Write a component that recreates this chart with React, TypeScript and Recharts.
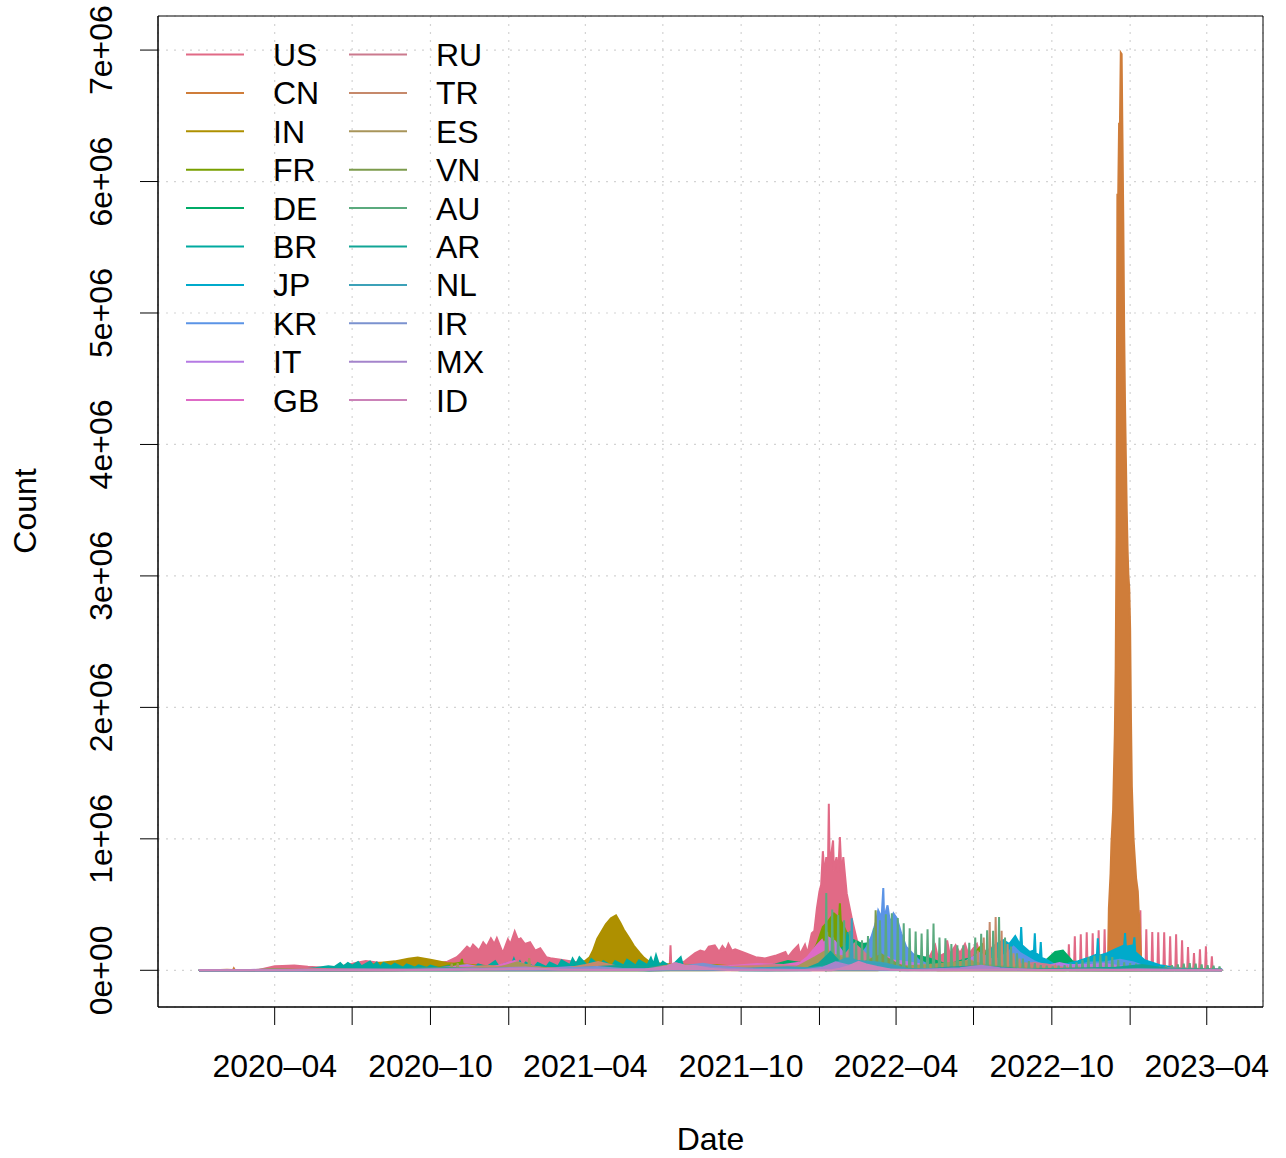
import React from 'react';
import { AreaChart, Area, XAxis, YAxis, CartesianGrid, Legend, ReferenceArea } from 'recharts';

type P = [string, number];

const FONT = '"Liberation Sans", Arial, Helvetica, sans-serif';

// values in thousands of cases
const US: P[] = [['2020-01-03',0],['2020-02-28',0],['2020-03-12',1],['2020-03-22',15],['2020-04-01',30],['2020-04-10',33],['2020-04-24',36],['2020-05-10',27],['2020-05-25',22],['2020-06-10',22],['2020-06-25',40],['2020-07-05',55],['2020-07-17',70],['2020-07-28',62],['2020-08-10',52],['2020-08-28',42],['2020-09-10',35],['2020-09-25',45],['2020-10-10',55],['2020-10-21',65],['2020-11-01',100],['2020-11-06',130],['2020-11-13',180],['2020-11-17',160],['2020-11-20',195],['2020-11-27',150],['2020-12-02',213],['2020-12-06',180],['2020-12-11',243],['2020-12-15',200],['2020-12-18',245],['2020-12-25',130],['2020-12-31',235],['2021-01-03',200],['2021-01-08',296],['2021-01-12',230],['2021-01-15',243],['2021-01-20',200],['2021-01-26',213],['2021-02-01',150],['2021-02-07',167],['2021-02-14',100],['2021-02-19',91],['2021-03-03',80],['2021-03-20',63],['2021-04-07',70],['2021-04-20',60],['2021-04-30',50],['2021-05-24',30],['2021-06-16',15],['2021-07-01',15],['2021-07-09',20],['2021-07-10',190],['2021-07-11',25],['2021-07-20',45],['2021-07-27',70],['2021-08-02',100],['2021-08-08',130],['2021-08-14',150],['2021-08-20',140],['2021-08-24',180],['2021-08-31',190],['2021-09-05',140],['2021-09-09',185],['2021-09-13',150],['2021-09-16',200],['2021-09-20',150],['2021-09-24',160],['2021-10-06',130],['2021-10-18',100],['2021-10-29',90],['2021-11-10',110],['2021-11-22',140],['2021-11-25',100],['2021-12-01',150],['2021-12-07',190],['2021-12-09',120],['2021-12-15',195],['2021-12-18',130],['2021-12-23',281],['2021-12-26',300],['2021-12-29',471],['2022-01-01',600],['2022-01-03',650],['2022-01-05',906],['2022-01-07',720],['2022-01-09',861],['2022-01-11',780],['2022-01-12',1267],['2022-01-13',800],['2022-01-15',889],['2022-01-17',988],['2022-01-18',760],['2022-01-21',861],['2022-01-23',740],['2022-01-25',1013],['2022-01-27',720],['2022-01-29',861],['2022-02-02',585],['2022-02-08',395],['2022-02-14',228],['2022-02-22',150],['2022-03-01',120],['2022-03-13',60],['2022-03-25',45],['2022-04-06',40],['2022-04-23',70],['2022-05-03',90],['2022-05-11',110],['2022-05-17',190],['2022-05-20',100],['2022-05-29',130],['2022-05-31',228],['2022-06-03',120],['2022-06-10',190],['2022-06-15',130],['2022-06-21',200],['2022-06-25',120],['2022-07-05',200],['2022-07-08',130],['2022-07-20',160],['2022-07-26',190],['2022-08-07',120],['2022-08-25',100],['2022-09-11',80],['2022-09-29',60],['2022-10-10',45],['2022-10-19',40],['2023-04-19',0]];
const US_WEEKLY: P[] = [['2022-10-21',198],['2022-10-28',258],['2022-11-04',274],['2022-11-11',289],['2022-11-18',281],['2022-11-25',304],['2022-12-02',312],['2022-12-09',320],['2022-12-16',340],['2022-12-23',360],['2022-12-30',380],['2023-01-06',400],['2023-01-13',456],['2023-01-20',312],['2023-01-27',291],['2023-02-03',289],['2023-02-10',289],['2023-02-17',258],['2023-02-24',274],['2023-03-03',228],['2023-03-10',177],['2023-03-17',132],['2023-03-24',160],['2023-03-31',182],['2023-04-07',106]];

const CN: P[] = [['2020-01-03',0],['2020-01-20',0.1],['2020-01-28',1.5],['2020-02-05',3.5],['2020-02-12',2],['2020-02-13',15],['2020-02-14',4],['2020-02-20',0.8],['2020-03-05',0.1],['2020-06-01',0],['2022-03-10',1],['2022-04-10',25],['2022-04-25',20],['2022-05-20',1],['2022-10-15',1],['2022-11-10',10],['2022-11-26',30],['2022-12-03',35],['2022-12-06',60],['2022-12-07',471],['2022-12-09',737],['2022-12-10',965],['2022-12-12',1220],['2022-12-13',1520],['2022-12-14',1800],['2022-12-15',2300],['2022-12-16',3300],['2022-12-17',5900],['2022-12-18',5900],['2022-12-19',6440],['2022-12-20',6440],['2022-12-21',6980],['2022-12-22',6970],['2022-12-23',6330],['2022-12-24',5680],['2022-12-25',4860],['2022-12-26',4300],['2022-12-27',3900],['2022-12-28',3500],['2022-12-29',3200],['2022-12-30',3000],['2022-12-31',2900],['2023-01-01',2600],['2023-01-02',1900],['2023-01-03',1400],['2023-01-04',1200],['2023-01-05',1000],['2023-01-06',900],['2023-01-07',800],['2023-01-08',700],['2023-01-09',650],['2023-01-10',600],['2023-01-11',450],['2023-01-12',380],['2023-01-13',200],['2023-01-14',80],['2023-01-16',30],['2023-02-01',10],['2023-03-01',3],['2023-04-19',1]];

const IN: P[] = [['2020-01-03',0],['2020-03-15',0.1],['2020-04-15',1],['2020-05-15',4],['2020-06-15',12],['2020-07-15',30],['2020-08-01',55],['2020-08-20',68],['2020-09-05',88],['2020-09-16',97],['2020-10-01',80],['2020-10-20',55],['2020-11-10',45],['2020-12-01',35],['2021-01-01',20],['2021-02-10',11],['2021-03-01',16],['2021-03-20',40],['2021-04-01',72],['2021-04-06',100],['2021-04-10',150],['2021-04-15',240],['2021-04-20',295],['2021-04-25',350],['2021-05-01',395],['2021-05-07',418],['2021-05-12',362],['2021-05-16',310],['2021-05-23',240],['2021-05-28',186],['2021-06-04',130],['2021-06-09',95],['2021-06-15',65],['2021-07-01',48],['2021-08-01',40],['2021-09-01',40],['2021-10-01',23],['2021-11-01',12],['2021-12-20',7],['2022-01-01',22],['2022-01-10',170],['2022-01-21',347],['2022-02-01',160],['2022-02-15',30],['2022-03-10',5],['2022-05-01',3],['2022-06-15',10],['2022-07-20',20],['2022-08-20',10],['2022-10-01',3],['2023-01-01',0.2],['2023-03-25',1.5],['2023-04-19',5]];

const FR: P[] = [['2020-01-03',0],['2020-03-01',0],['2020-03-25',4],['2020-04-10',7],['2020-05-15',1],['2020-07-01',0.5],['2020-08-20',4],['2020-09-20',12],['2020-10-15',25],['2020-10-30',50],['2020-11-06',60],['2020-11-07',86],['2020-11-08',45],['2020-11-25',15],['2020-12-20',15],['2021-01-20',22],['2021-03-01',20],['2021-04-01',40],['2021-04-20',30],['2021-05-20',10],['2021-06-20',2],['2021-07-20',20],['2021-08-10',25],['2021-09-10',8],['2021-10-10',5],['2021-11-10',10],['2021-12-01',40],['2021-12-20',80],['2021-12-29',200],['2022-01-05',330],['2022-01-11',370],['2022-01-18',433],['2022-01-24',400],['2022-01-25',509],['2022-01-26',380],['2022-02-01',300],['2022-02-08',200],['2022-02-20',80],['2022-03-10',60],['2022-03-25',120],['2022-04-05',150],['2022-04-20',90],['2022-05-15',30],['2022-06-10',30],['2022-07-01',100],['2022-07-05',150],['2022-07-12',200],['2022-07-15',110],['2022-08-01',40],['2022-09-01',20],['2022-10-05',60],['2022-10-25',30],['2022-12-01',50],['2022-12-15',60],['2023-01-10',15],['2023-02-15',5],['2023-04-19',2]];

const DE: P[] = [['2020-01-03',0],['2020-03-01',0],['2020-03-15',1],['2020-03-28',6],['2020-04-20',2],['2020-06-01',0.5],['2020-09-01',1.5],['2020-10-15',6],['2020-11-01',18],['2020-11-20',23],['2020-12-18',33],['2021-01-10',20],['2021-02-10',8],['2021-03-20',17],['2021-04-15',25],['2021-05-15',10],['2021-06-15',1],['2021-08-10',5],['2021-09-01',10],['2021-10-15',10],['2021-11-10',45],['2021-11-25',70],['2021-12-10',55],['2021-12-28',30],['2022-01-10',60],['2022-01-25',160],['2022-02-10',230],['2022-02-20',200],['2022-03-05',210],['2022-03-18',290],['2022-03-25',270],['2022-04-05',200],['2022-04-20',120],['2022-05-10',90],['2022-06-01',40],['2022-06-20',80],['2022-07-10',110],['2022-07-20',100],['2022-08-10',50],['2022-09-01',30],['2022-09-25',80],['2022-10-05',140],['2022-10-14',150],['2022-10-25',70],['2022-11-15',30],['2022-12-10',40],['2022-12-25',20],['2023-01-20',10],['2023-02-20',15],['2023-03-15',8],['2023-04-19',2]];

const BR: P[] = [['2020-01-03',0],['2020-03-15',0.1],['2020-04-15',2],['2020-05-01',5],['2020-05-20',18],['2020-06-03',30],['2020-06-10',25],['2020-06-17',55],['2020-06-21',30],['2020-06-26',55],['2020-07-01',35],['2020-07-08',62],['2020-07-12',30],['2020-07-22',67],['2020-07-26',35],['2020-07-30',60],['2020-08-03',25],['2020-08-07',55],['2020-08-16',30],['2020-08-20',50],['2020-08-30',20],['2020-09-03',45],['2020-09-13',20],['2020-09-17',38],['2020-09-27',18],['2020-10-01',35],['2020-10-11',15],['2020-10-22',30],['2020-11-01',12],['2020-11-12',35],['2020-11-22',20],['2020-11-26',45],['2020-12-06',25],['2020-12-16',70],['2020-12-20',30],['2020-12-30',55],['2021-01-03',20],['2021-01-07',87],['2021-01-10',35],['2021-01-14',68],['2021-01-17',30],['2021-01-21',60],['2021-01-31',25],['2021-02-04',55],['2021-02-14',25],['2021-02-18',60],['2021-02-28',30],['2021-03-04',75],['2021-03-14',40],['2021-03-17',90],['2021-03-21',45],['2021-03-25',100],['2021-04-04',30],['2021-04-08',85],['2021-04-18',35],['2021-04-22',70],['2021-05-02',30],['2021-05-06',70],['2021-05-16',35],['2021-05-20',80],['2021-05-30',35],['2021-06-03',75],['2021-06-13',40],['2021-06-17',95],['2021-06-20',45],['2021-06-23',115],['2021-06-27',35],['2021-07-01',65],['2021-07-11',25],['2021-07-15',55],['2021-07-22',100],['2021-07-25',25],['2021-08-05',40],['2021-08-15',15],['2021-08-26',30],['2021-09-10',15],['2021-10-10',10],['2021-11-10',10],['2021-12-10',5],['2022-01-05',15],['2022-01-15',80],['2022-01-20',150],['2022-01-25',110],['2022-02-01',170],['2022-02-03',290],['2022-02-05',130],['2022-02-20',100],['2022-03-10',50],['2022-04-10',20],['2022-05-10',20],['2022-06-01',40],['2022-06-20',60],['2022-07-05',50],['2022-08-01',30],['2022-09-01',15],['2022-10-01',8],['2022-11-20',30],['2022-12-10',40],['2023-01-05',25],['2023-02-01',10],['2023-03-01',10],['2023-04-19',5]];

const JP: P[] = [['2020-01-03',0],['2020-03-20',0.1],['2020-04-10',0.6],['2020-05-15',0.1],['2020-08-05',1.5],['2020-11-01',0.8],['2021-01-08',8],['2021-02-15',1.5],['2021-05-10',7],['2021-06-20',1.5],['2021-08-20',25],['2021-09-30',1],['2021-12-20',0.3],['2022-01-10',10],['2022-01-25',70],['2022-02-05',105],['2022-02-20',75],['2022-03-15',50],['2022-04-10',50],['2022-05-01',35],['2022-06-10',15],['2022-06-25',20],['2022-07-10',60],['2022-07-20',150],['2022-07-28',200],['2022-08-05',230],['2022-08-12',200],['2022-08-19',260],['2022-08-25',190],['2022-08-26',329],['2022-08-27',190],['2022-09-05',140],['2022-09-10',150],['2022-09-11',281],['2022-09-12',130],['2022-09-17',110],['2022-09-18',215],['2022-09-19',95],['2022-09-25',80],['2022-10-05',40],['2022-10-20',50],['2022-11-01',70],['2022-11-15',100],['2022-11-23',120],['2022-11-24',243],['2022-11-25',110],['2022-12-05',130],['2022-12-15',160],['2022-12-25',190],['2022-12-26',283],['2022-12-27',180],['2023-01-05',190],['2023-01-06',251],['2023-01-07',140],['2023-01-18',76],['2023-02-05',38],['2023-03-01',12],['2023-04-19',8]];

const KR: P[] = [['2020-01-03',0],['2020-02-20',0.1],['2020-03-01',0.8],['2020-03-15',0.1],['2020-08-27',0.4],['2020-12-25',1.2],['2021-07-25',1.8],['2021-09-25',3],['2021-12-15',7.8],['2022-01-10',3.5],['2022-02-01',20],['2022-02-15',90],['2022-02-25',170],['2022-03-03',253],['2022-03-08',357],['2022-03-11',456],['2022-03-15',400],['2022-03-17',625],['2022-03-18',400],['2022-03-22',494],['2022-03-25',357],['2022-03-29',433],['2022-04-02',395],['2022-04-07',281],['2022-04-13',177],['2022-04-20',130],['2022-04-27',80],['2022-05-10',40],['2022-06-10',10],['2022-07-10',20],['2022-07-25',70],['2022-08-10',130],['2022-08-17',180],['2022-08-25',130],['2022-09-10',70],['2022-09-25',30],['2022-10-15',25],['2022-11-01',40],['2022-11-15',60],['2022-12-01',60],['2022-12-20',80],['2023-01-05',60],['2023-01-20',25],['2023-02-15',12],['2023-04-19',10]];

const IT: P[] = [['2020-01-03',0],['2020-02-25',0.1],['2020-03-21',6.5],['2020-04-20',3],['2020-05-20',0.7],['2020-08-01',0.3],['2020-09-20',1.5],['2020-10-15',8],['2020-11-01',30],['2020-11-13',41],['2020-12-01',20],['2020-12-20',15],['2021-01-08',20],['2021-02-10',12],['2021-03-15',24],['2021-04-10',15],['2021-05-15',6],['2021-06-20',1],['2021-08-01',6],['2021-09-01',6],['2021-10-01',3],['2021-11-15',10],['2021-12-10',20],['2021-12-28',100],['2022-01-05',190],['2022-01-11',250],['2022-01-19',220],['2022-01-28',140],['2022-02-10',80],['2022-02-25',40],['2022-03-20',75],['2022-04-05',70],['2022-04-25',50],['2022-05-20',25],['2022-06-10',25],['2022-06-28',90],['2022-07-08',130],['2022-07-20',90],['2022-08-10',40],['2022-09-01',20],['2022-09-20',25],['2022-10-10',55],['2022-10-20',40],['2022-11-15',40],['2022-12-01',50],['2022-12-20',30],['2023-01-10',20],['2023-02-15',5],['2023-03-15',3],['2023-04-19',2]];

const GB: P[] = [['2020-01-03',0],['2020-03-15',0.5],['2020-04-10',5],['2020-05-15',2.5],['2020-07-01',0.6],['2020-08-20',1],['2020-09-20',5],['2020-10-20',22],['2020-11-10',25],['2020-12-01',15],['2020-12-20',35],['2020-12-30',55],['2021-01-08',70],['2021-01-20',40],['2021-02-10',15],['2021-03-10',6],['2021-04-20',2.5],['2021-05-20',2.5],['2021-06-15',10],['2021-07-01',25],['2021-07-17',52],['2021-08-01',25],['2021-08-20',33],['2021-09-15',30],['2021-10-20',47],['2021-11-20',40],['2021-12-10',60],['2021-12-18',100],['2021-12-29',190],['2022-01-04',230],['2022-01-10',150],['2022-01-20',100],['2022-02-05',80],['2022-02-20',40],['2022-03-10',60],['2022-03-22',100],['2022-04-05',50],['2022-04-25',20],['2022-06-01',10],['2022-07-01',25],['2022-07-20',20],['2022-08-20',5],['2022-10-01',10],['2022-11-01',5],['2022-12-20',10],['2023-02-01',5],['2023-04-19',2]];

const RU: P[] = [['2020-01-03',0],['2020-03-20',0.1],['2020-04-15',3],['2020-05-11',11],['2020-06-15',8],['2020-08-01',5],['2020-09-01',5],['2020-10-01',9],['2020-11-01',18],['2020-12-24',29],['2021-01-20',21],['2021-03-01',11],['2021-05-15',8],['2021-06-20',18],['2021-07-10',25],['2021-08-15',21],['2021-09-15',19],['2021-10-15',31],['2021-11-06',41],['2021-12-01',33],['2021-12-31',21],['2022-01-20',50],['2022-02-01',125],['2022-02-11',203],['2022-02-20',150],['2022-03-05',70],['2022-03-25',30],['2022-04-20',12],['2022-06-01',3],['2022-07-10',5],['2022-08-01',20],['2022-08-25',45],['2022-09-10',55],['2022-09-25',45],['2022-10-15',20],['2022-11-15',8],['2023-01-01',7],['2023-02-01',11],['2023-03-01',15],['2023-04-19',5]];

const TR: P[] = [['2020-01-03',0],['2020-03-15',0],['2020-04-11',5],['2020-05-20',1],['2020-07-01',1.2],['2020-09-01',1.6],['2020-11-01',2.5],['2020-11-26',29],['2020-12-10',32],['2020-12-31',15],['2021-02-01',6.5],['2021-03-10',14],['2021-04-01',40],['2021-04-16',62],['2021-05-01',40],['2021-05-20',10],['2021-06-20',5],['2021-08-01',23],['2021-09-01',20],['2021-10-01',28],['2021-11-01',28],['2021-12-01',22],['2022-01-01',40],['2022-01-15',70],['2022-01-26',111],['2022-02-07',90],['2022-02-25',45],['2022-03-15',25],['2022-04-01',15],['2023-04-19',0]];
const TR_WEEKLY: P[] = [['2022-04-06',45],['2022-04-13',40],['2022-04-20',35],['2022-04-27',30],['2022-05-04',25],['2022-05-11',25],['2022-05-18',22],['2022-05-25',20],['2022-06-01',20],['2022-06-08',25],['2022-06-15',40],['2022-06-22',60],['2022-06-29',80],['2022-07-06',150],['2022-07-13',250],['2022-07-20',367],['2022-07-27',405],['2022-08-03',300],['2022-08-10',200],['2022-08-17',130],['2022-08-24',90],['2022-08-31',60],['2022-09-07',45],['2022-09-14',35],['2022-09-21',30],['2022-10-05',25],['2022-10-19',20],['2022-11-02',18],['2022-11-16',15],['2022-11-30',15],['2022-12-14',15],['2022-12-28',15],['2023-01-11',12],['2023-01-25',10],['2023-02-08',8],['2023-02-22',6],['2023-03-08',5],['2023-03-22',5],['2023-04-05',4]];

const ES: P[] = [['2020-01-03',0],['2020-03-01',0],['2020-03-26',8],['2020-04-15',5],['2020-05-20',0.5],['2020-07-20',2],['2020-08-25',8],['2020-09-15',12],['2020-10-10',15],['2020-10-25',15],['2020-10-26',50],['2020-10-27',15],['2020-11-01',20],['2020-11-02',55],['2020-11-03',20],['2020-11-20',15],['2020-12-15',10],['2021-01-11',60],['2021-01-24',35],['2021-01-25',93],['2021-01-26',30],['2021-02-15',15],['2021-03-15',5],['2021-04-20',8],['2021-06-01',4],['2021-07-12',40],['2021-07-20',30],['2021-08-20',10],['2021-10-01',2],['2021-12-01',8],['2021-12-27',100],['2022-01-09',150],['2022-01-10',292],['2022-01-11',150],['2022-01-16',120],['2022-01-17',250],['2022-01-18',120],['2022-02-01',80],['2022-02-20',30],['2022-04-01',25],['2022-05-10',40],['2022-06-10',60],['2022-06-25',70],['2022-07-15',40],['2022-09-01',15],['2022-12-01',10],['2023-02-01',10],['2023-04-19',3]];

const VN: P[] = [['2020-01-03',0],['2021-06-15',0.3],['2021-07-20',5],['2021-08-15',10],['2021-09-15',10],['2021-10-15',3.5],['2021-11-20',12],['2021-12-20',16],['2022-01-20',15],['2022-02-15',40],['2022-03-01',80],['2022-03-07',100],['2022-03-08',456],['2022-03-09',100],['2022-03-15',120],['2022-03-22',90],['2022-04-05',40],['2022-04-20',10],['2022-05-10',3],['2022-08-10',3],['2022-10-01',1],['2023-04-19',0.1]];

const AU: P[] = [['2020-01-03',0],['2020-03-15',0.2],['2020-03-28',0.4],['2020-04-20',0.02],['2020-07-10',0.3],['2020-08-05',0.7],['2020-09-15',0.05],['2021-06-30',0.03],['2021-08-20',0.8],['2021-09-15',2],['2021-10-15',2.5],['2021-11-15',1.2],['2021-12-10',2],['2021-12-20',6],['2021-12-28',20],['2021-12-31',35],['2023-04-19',0]];
const AU_WEEKLY: P[] = [['2022-01-09',587],['2022-01-16',463],['2022-01-23',420],['2022-01-30',380],['2022-02-06',300],['2022-02-13',228],['2022-02-20',228],['2022-02-27',260],['2022-03-06',320],['2022-03-13',380],['2022-03-20',426],['2022-03-27',433],['2022-04-03',397],['2022-04-10',357],['2022-04-17',320],['2022-04-24',295],['2022-05-01',280],['2022-05-08',312],['2022-05-15',355],['2022-05-22',250],['2022-05-29',243],['2022-06-05',200],['2022-06-12',190],['2022-06-19',190],['2022-06-26',210],['2022-07-03',250],['2022-07-10',278],['2022-07-17',304],['2022-07-24',300],['2022-07-31',405],['2022-08-07',250],['2022-08-14',180],['2022-08-21',130],['2022-08-28',90],['2022-09-04',70],['2022-09-11',55],['2022-09-18',40],['2022-09-25',35],['2022-10-02',30],['2022-10-09',35],['2022-10-16',40],['2022-10-23',50],['2022-10-30',60],['2022-11-06',80],['2022-11-13',100],['2022-11-20',110],['2022-11-27',120],['2022-12-04',110],['2022-12-11',100],['2022-12-18',80],['2022-12-25',60],['2023-01-01',55],['2023-01-08',50],['2023-01-15',40],['2023-01-22',35],['2023-01-29',30],['2023-02-05',30],['2023-02-12',35],['2023-02-19',40],['2023-02-26',45],['2023-03-05',50],['2023-03-12',55],['2023-03-19',50],['2023-03-26',45],['2023-04-02',40],['2023-04-09',35],['2023-04-16',30]];

const AR: P[] = [['2020-01-03',0],['2020-04-01',0.1],['2020-05-15',0.5],['2020-07-15',3],['2020-08-20',8],['2020-10-01',14],['2020-10-20',16],['2020-11-20',8],['2020-12-30',12],['2021-01-15',10],['2021-03-01',7],['2021-04-15',25],['2021-05-25',39],['2021-06-15',25],['2021-07-15',13],['2021-08-15',6],['2021-09-15',1.5],['2021-11-01',1],['2021-12-15',8],['2021-12-31',50],['2022-01-10',110],['2022-01-14',140],['2022-01-25',60],['2022-02-10',20],['2022-03-01',5],['2022-05-01',3],['2022-06-01',20],['2022-07-10',30],['2022-09-01',5],['2022-12-15',20],['2023-01-15',40],['2023-02-15',10],['2023-04-19',2]];

const NL: P[] = [['2020-01-03',0],['2020-03-20',1],['2020-04-10',1.2],['2020-06-01',0.2],['2020-09-15',2],['2020-10-20',10],['2020-12-20',12],['2021-02-10',4],['2021-04-15',8],['2021-06-15',1],['2021-07-15',10],['2021-09-01',2],['2021-11-25',24],['2021-12-20',15],['2022-01-10',30],['2022-01-25',70],['2022-02-01',90],['2022-02-07',90],['2022-02-08',395],['2022-02-09',85],['2022-02-15',70],['2022-03-10',60],['2022-03-20',50],['2022-04-15',10],['2022-06-20',5],['2022-07-10',10],['2022-09-01',2],['2022-10-10',3],['2023-04-19',0.5]];

const IR: P[] = [['2020-01-03',0],['2020-02-25',0.2],['2020-03-30',3],['2020-05-01',1],['2020-06-05',3],['2020-07-15',2.5],['2020-09-15',3.5],['2020-11-20',14],['2020-12-20',6],['2021-02-01',6.5],['2021-04-15',25],['2021-05-15',10],['2021-06-20',10],['2021-07-20',27],['2021-08-17',50],['2021-09-10',25],['2021-10-15',10],['2021-11-30',4],['2022-01-10',1.5],['2022-01-25',20],['2022-02-07',40],['2022-02-25',15],['2022-04-01',3],['2022-07-10',4],['2022-08-10',9],['2022-09-20',2],['2023-04-19',0.5]];

const MX: P[] = [['2020-01-03',0],['2020-04-01',0.2],['2020-05-20',2.5],['2020-07-15',7],['2020-09-01',5],['2020-10-20',6],['2020-12-01',10],['2021-01-21',22],['2021-02-15',8],['2021-04-15',3],['2021-06-15',3],['2021-07-20',15],['2021-08-15',25],['2021-09-15',12],['2021-10-20',4],['2021-12-15',2],['2022-01-05',20],['2022-01-20',60],['2022-02-05',35],['2022-02-25',8],['2022-04-15',1],['2022-06-15',15],['2022-07-10',35],['2022-08-01',15],['2022-09-01',3],['2022-12-01',3],['2023-01-10',8],['2023-04-19',1]];

const ID: P[] = [['2020-01-03',0],['2020-03-10',0],['2020-04-15',0.3],['2020-06-15',1],['2020-08-15',2.3],['2020-10-01',4],['2020-12-01',5.5],['2021-01-30',14],['2021-03-01',6],['2021-05-01',4.5],['2021-06-10',7],['2021-06-25',20],['2021-07-06',31],['2021-07-15',56],['2021-07-25',38],['2021-08-10',30],['2021-08-25',12],['2021-09-15',3],['2021-11-01',0.5],['2022-01-15',1],['2022-01-25',12],['2022-02-05',33],['2022-02-16',64],['2022-02-25',45],['2022-03-10',25],['2022-03-25',6],['2022-05-01',1],['2022-06-20',2],['2022-07-20',5],['2022-08-15',6],['2022-09-15',2],['2022-11-20',6],['2022-12-20',1.5],['2023-04-19',0.2]];

const SERIES: { key: string; color: string; daily: P[]; weekly?: P[] }[] = [
  { key: 'US', color: '#E16A86', daily: US, weekly: US_WEEKLY },
  { key: 'CN', color: '#CF7D3A', daily: CN },
  { key: 'IN', color: '#AE9000', daily: IN },
  { key: 'FR', color: '#789F00', daily: FR },
  { key: 'DE', color: '#00AB67', daily: DE },
  { key: 'BR', color: '#00AAA0', daily: BR },
  { key: 'JP', color: '#00AACB', daily: JP },
  { key: 'KR', color: '#5B94E6', daily: KR },
  { key: 'IT', color: '#B57AE3', daily: IT },
  { key: 'GB', color: '#DE6BC6', daily: GB },
  { key: 'RU', color: '#CB7A8E', daily: RU },
  { key: 'TR', color: '#C6896B', daily: TR, weekly: TR_WEEKLY },
  { key: 'ES', color: '#A8955A', daily: ES },
  { key: 'VN', color: '#7C9B4C', daily: VN },
  { key: 'AU', color: '#5BAA7E', daily: AU, weekly: AU_WEEKLY },
  { key: 'AR', color: '#12A596', daily: AR },
  { key: 'NL', color: '#3CA1B8', daily: NL },
  { key: 'IR', color: '#7B92CF', daily: IR },
  { key: 'MX', color: '#A484CB', daily: MX },
  { key: 'ID', color: '#CB82B8', daily: ID },
];

const X_TICKS: string[] = ['2020-04-01','2020-07-01','2020-10-01','2021-01-01','2021-04-01','2021-07-01','2021-10-01','2022-01-01','2022-04-01','2022-07-01','2022-10-01','2023-01-01','2023-04-01'];
const Y_TICKS: number[] = [0, 1e6, 2e6, 3e6, 4e6, 5e6, 6e6, 7e6];

const DAY = 86400000;
const toT = (s: string) => { const [y, m, d] = s.split('-').map(Number); return Date.UTC(y, m - 1, d); };

function buildTable() {
  const rows = new Map<number, Record<string, number>>();
  const put = (t: number, k: string, v: number, soft: boolean) => {
    let r = rows.get(t);
    if (!r) { r = { t }; rows.set(t, r); }
    if (soft && r[k] !== undefined) return;
    r[k] = v;
  };
  SERIES.forEach((s) => {
    s.daily.forEach(([d, v]) => put(toT(d), s.key, v * 1000, false));
    (s.weekly || []).forEach(([d, v]) => {
      const t = toT(d);
      put(t, s.key, v * 1000, false);
      put(t - DAY, s.key, 0, true);
      put(t + DAY, s.key, 0, true);
    });
  });
  return Array.from(rows.values()).sort((a, b) => a.t - b.t);
}
const DATA = buildTable();

const T0 = toT('2020-01-03');
const T1 = toT('2023-04-19');
const XPAD = (T1 - T0) * 0.04;
const X_DOMAIN: [number, number] = [T0 - XPAD, T1 + XPAD];
const YMAX = 6980000;
const Y_DOMAIN: [number, number] = [-YMAX * 0.04, YMAX * 1.04];

const fmtX = (t: number) => {
  const d = new Date(t);
  const m = d.getUTCMonth() + 1;
  if (m !== 4 && m !== 10) return '';
  return `${d.getUTCFullYear()}\u2013${String(m).padStart(2, '0')}`;
};
const fmtY = (v: number) => (v === 0 ? '0e+00' : `${Math.round(v / 1e6)}e+06`);

const XTick = (props: any) => {
  const { x, y, payload } = props;
  const label = fmtX(payload.value);
  if (!label) return <g />;
  return (
    <text x={x} y={y + 52} textAnchor="middle" fontSize={32} fontFamily={FONT} fill="#000">{label}</text>
  );
};
const YTick = (props: any) => {
  const { x, y, payload } = props;
  const bx = x - 28;
  return (
    <text x={bx} y={y} transform={`rotate(-90 ${bx} ${y})`} textAnchor="middle" fontSize={32} fontFamily={FONT} fill="#000">
      {fmtY(payload.value)}
    </text>
  );
};

const renderLegend = () => (
  <svg width={520} height={430} style={{ display: 'block' }}>
    {SERIES.map((s, i) => {
      const col = Math.floor(i / 10);
      const row = i % 10;
      const ly = 54.5 + row * 38.4;
      const x0 = col ? 349 : 186;
      const tx = col ? 436 : 273;
      return (
        <g key={s.key}>
          <line x1={x0} x2={x0 + 58} y1={ly} y2={ly} stroke={s.color} strokeWidth={2} />
          <text x={tx} y={ly + 11.5} fontSize={32} fontFamily={FONT} fill="#000">{s.key}</text>
        </g>
      );
    })}
  </svg>
);

export default function App() {
  return (
    <div style={{ position: 'absolute', left: 0, top: 0, width: 1286, height: 1158, background: '#fff' }}>
      <AreaChart width={1286} height={1158} data={DATA} margin={{ top: 16, right: 23, bottom: 91, left: 58 }} style={{ fontFamily: FONT }}>
        <CartesianGrid stroke="#D3D3D3" strokeDasharray="2 6" strokeWidth={1.2} />
        <XAxis
          dataKey="t"
          type="number"
          domain={X_DOMAIN}
          allowDataOverflow
          ticks={X_TICKS.map(toT)}
          interval={0}
          height={60}
          tickSize={18}
          tickMargin={0}
          tick={<XTick />}
          axisLine={{ stroke: '#000', strokeWidth: 1 }}
          tickLine={{ stroke: '#000', strokeWidth: 1 }}
          label={() => (
            <text x={710.5} y={1150} textAnchor="middle" fontSize={32} fontFamily={FONT} fill="#000">Date</text>
          )}
        />
        <YAxis
          type="number"
          domain={Y_DOMAIN}
          allowDataOverflow
          ticks={Y_TICKS}
          interval={0}
          width={100}
          tickSize={18}
          tickMargin={0}
          tick={<YTick />}
          axisLine={{ stroke: '#000', strokeWidth: 1 }}
          tickLine={{ stroke: '#000', strokeWidth: 1 }}
          label={() => (
            <text x={36} y={511} transform="rotate(-90 36 511)" textAnchor="middle" fontSize={32} fontFamily={FONT} fill="#000">Count</text>
          )}
        />
        {SERIES.map((s) => (
          <Area
            key={s.key}
            type="linear"
            dataKey={s.key}
            name={s.key}
            stroke={s.color}
            strokeWidth={2}
            fill={s.color}
            fillOpacity={1}
            baseValue={0}
            connectNulls
            dot={false}
            activeDot={false}
            isAnimationActive={false}
          />
        ))}
        <ReferenceArea x1={X_DOMAIN[0]} x2={X_DOMAIN[1]} y1={Y_DOMAIN[0]} y2={Y_DOMAIN[1]} fill="none" stroke="#000" strokeWidth={1} ifOverflow="visible" />
        <Legend
          layout="vertical"
          align="center"
          verticalAlign="middle"
          content={renderLegend}
          wrapperStyle={{ position: 'absolute', left: 0, top: 0, width: 520, height: 430, margin: 0, padding: 0 }}
        />
      </AreaChart>
    </div>
  );
}
